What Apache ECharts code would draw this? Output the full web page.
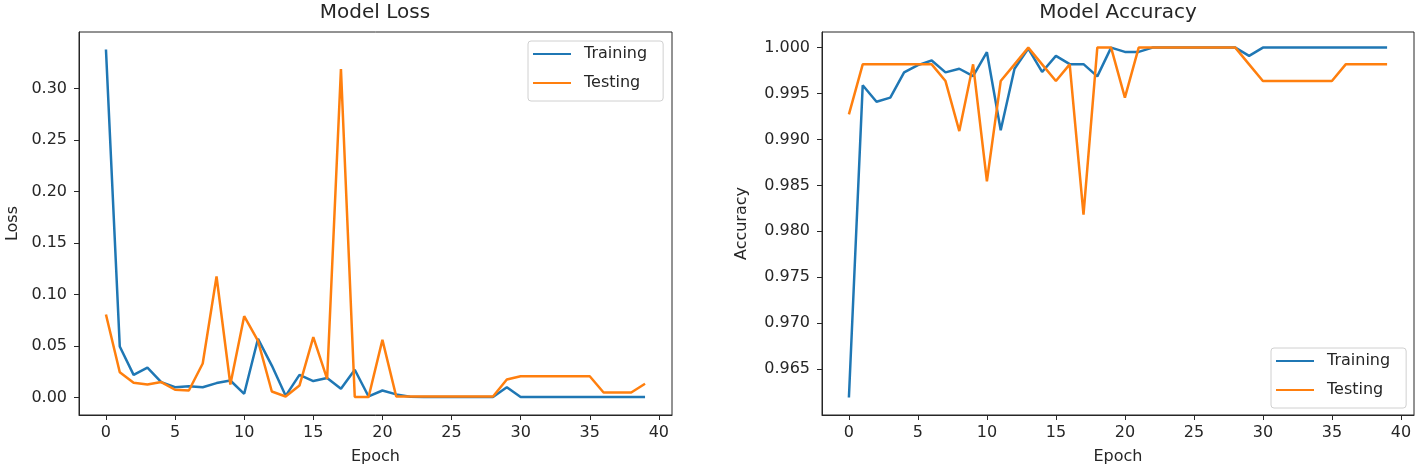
<!DOCTYPE html>
<html>
<head>
<meta charset="utf-8">
<script src="https://cdn.jsdelivr.net/npm/echarts@6/dist/echarts.min.js"></script>
<style>
  html, body { margin: 0; padding: 0; background: #fff; }
  #chart { width: 1418px; height: 472px; }
</style>
</head>
<body>
<div id="chart"></div>
<script>
// Data
const epochs = [0, 1, 2, 3, 4, 5, 6, 7, 8, 9, 10, 11, 12, 13, 14, 15, 16, 17, 18, 19,
  20, 21, 22, 23, 24, 25, 26, 27, 28, 29, 30, 31, 32, 33, 34, 35, 36, 37, 38, 39];

const lossTrain = [0.338, 0.0495, 0.022, 0.029, 0.015, 0.010, 0.011, 0.010, 0.014, 0.0165,
  0.0036, 0.057, 0.031, 0.0016, 0.022, 0.016, 0.019, 0.0084, 0.027, 0.001,
  0.0068, 0.003, 0.0008, 0.0005, 0.0005, 0.0005, 0.0005, 0.0005, 0.0005, 0.010,
  0.0005, 0.0005, 0.0005, 0.0005, 0.0005, 0.0005, 0.0005, 0.0005, 0.0005, 0.0005];

const lossTest = [0.0806, 0.0246, 0.0143, 0.0126, 0.015, 0.0075, 0.0068, 0.033, 0.1175, 0.0126,
  0.079, 0.055, 0.0058, 0.001, 0.0116, 0.0586, 0.018, 0.319, 0.0005, 0.0005,
  0.056, 0.001, 0.001, 0.001, 0.001, 0.001, 0.001, 0.001, 0.001, 0.0175,
  0.0207, 0.0207, 0.0207, 0.0207, 0.0207, 0.0207, 0.0049, 0.0049, 0.0049, 0.0133];

const accTrain = [0.9619, 0.9959, 0.9941, 0.99455, 0.9973, 0.9981, 0.9986, 0.9973, 0.9977, 0.9969,
  0.9995, 0.9910, 0.9977, 0.9999, 0.99735, 0.9991, 0.9982, 0.9982, 0.99687, 1.0,
  0.99953, 0.99953, 1.0, 1.0, 1.0, 1.0, 1.0, 1.0, 1.0, 0.9991,
  1.0, 1.0, 1.0, 1.0, 1.0, 1.0, 1.0, 1.0, 1.0, 1.0];

const accTest = [0.99273, 0.99818, 0.99818, 0.99818, 0.99818, 0.99818, 0.99818, 0.99636, 0.99091, 0.99818,
  0.98545, 0.99636, 0.99818, 1.0, 0.99818, 0.99636, 0.99818, 0.98182, 1.0, 1.0,
  0.99455, 1.0, 1.0, 1.0, 1.0, 1.0, 1.0, 1.0, 1.0, 0.99818,
  0.99636, 0.99636, 0.99636, 0.99636, 0.99636, 0.99636, 0.99818, 0.99818, 0.99818, 0.99818];

const epochTicks = [0, 5, 10, 15, 20, 25, 30, 35, 40];
const lossTicks = [0, 0.05, 0.10, 0.15, 0.20, 0.25, 0.30];
const accTicks = [0.965, 0.970, 0.975, 0.980, 0.985, 0.990, 0.995, 1.000];

const FONT = 'DejaVu Sans';
const TXT = '#262626';
const BLUE = '#1f77b4';
const ORANGE = '#ff7f0e';

const pairs = (ys) => epochs.map((e, i) => [e, ys[i]]);

const chart = echarts.init(document.getElementById('chart'), null, { renderer: 'canvas' });

const xAxisBase = (gridIndex) => ({
  type: 'value',
  gridIndex,
  min: -1.95,
  max: 40.95,
  name: 'Epoch',
  nameLocation: 'middle',
  nameGap: 34,
  nameTextStyle: { fontFamily: FONT, fontSize: 16, color: TXT },
  axisLine: { show: true, onZero: false, lineStyle: { color: TXT, width: 1 } },
  axisTick: { show: true, inside: false, length: 5, lineStyle: { color: TXT }, customValues: epochTicks },
  axisLabel: { fontFamily: FONT, fontSize: 16, color: TXT, margin: 10, customValues: epochTicks },
  splitLine: { show: false }
});

const yAxisBase = (gridIndex, min, max, ticks, digits, name, gap) => ({
  type: 'value',
  gridIndex,
  min,
  max,
  name,
  nameLocation: 'middle',
  nameGap: gap,
  nameTextStyle: { fontFamily: FONT, fontSize: 16, color: TXT },
  axisLine: { show: true, onZero: false, lineStyle: { color: TXT, width: 1 } },
  axisTick: { show: true, inside: false, length: 5, lineStyle: { color: TXT }, customValues: ticks },
  axisLabel: {
    fontFamily: FONT, fontSize: 16, color: TXT, margin: 12, customValues: ticks,
    formatter: (v) => v.toFixed(digits)
  },
  splitLine: { show: false }
});

const lineSeries = (name, data, color, idx) => ({
  name,
  type: 'line',
  xAxisIndex: idx,
  yAxisIndex: idx,
  data: pairs(data),
  symbol: 'none',
  lineStyle: { color, width: 2.5 },
  itemStyle: { color },
  animation: false
});

const legendBase = (left, top) => ({
  left, top,
  orient: 'vertical',
  data: ['Training', 'Testing'],
  icon: 'path://M0,6 L38,6 L38,8 L0,8 Z',
  itemWidth: 38,
  itemHeight: 14,
  itemGap: 13,
  padding: [5, 16, 10, 5],
  backgroundColor: '#fff',
  borderColor: '#d0d0d0',
  borderWidth: 1,
  borderRadius: 3,
  textStyle: { fontFamily: FONT, fontSize: 16, color: TXT, padding: [0, 0, 0, 8] },
  selectedMode: false
});

chart.setOption({
  backgroundColor: '#fff',
  animation: false,
  title: [
    { text: 'Model Loss', left: 375, top: 3, textAlign: 'center', padding: 0,
      textStyle: { fontFamily: FONT, fontSize: 20, fontWeight: 'normal', color: TXT } },
    { text: 'Model Accuracy', left: 1118, top: 3, textAlign: 'center', padding: 0,
      textStyle: { fontFamily: FONT, fontSize: 20, fontWeight: 'normal', color: TXT } }
  ],
  legend: [legendBase(528, 41), legendBase(1271, 348)],
  grid: [
    { left: 79, top: 32, width: 593, height: 383, show: true, borderColor: TXT, borderWidth: 1, backgroundColor: 'transparent' },
    { left: 822, top: 32, width: 592, height: 383, show: true, borderColor: TXT, borderWidth: 1, backgroundColor: 'transparent' }
  ],
  xAxis: [xAxisBase(0), xAxisBase(1)],
  yAxis: [
    yAxisBase(0, -0.017, 0.355, lossTicks, 2, 'Loss', 58),
    yAxisBase(1, 0.9600, 1.0017, accTicks, 3, 'Accuracy', 72)
  ],
  series: [
    lineSeries('Training', lossTrain, BLUE, 0),
    lineSeries('Testing', lossTest, ORANGE, 0),
    lineSeries('Training', accTrain, BLUE, 1),
    lineSeries('Testing', accTest, ORANGE, 1)
  ]
});
</script>
</body>
</html>
